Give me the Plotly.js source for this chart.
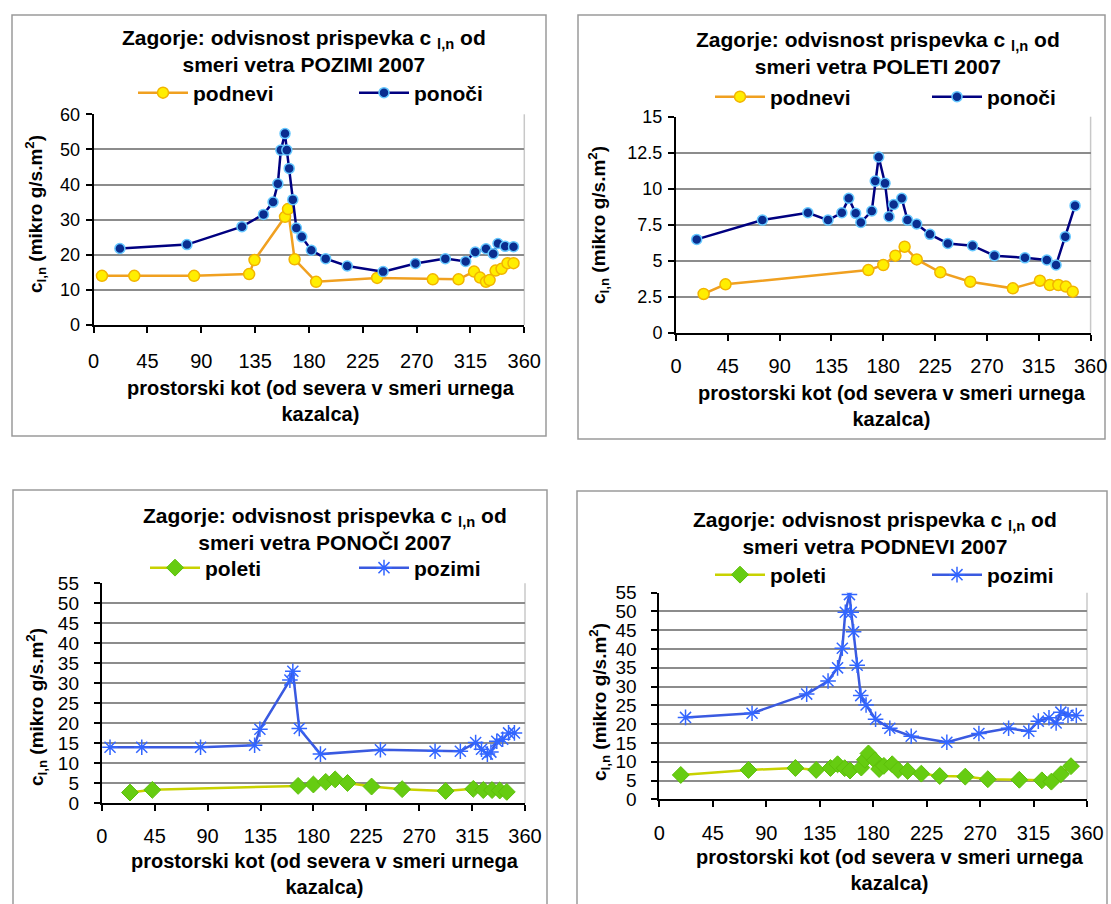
<!DOCTYPE html>
<html><head><meta charset="utf-8">
<script src="https://cdn.plot.ly/plotly-3.0.1.min.js"></script>
<style>body{margin:0;background:#fff}#chart{width:1111px;height:904px}</style>
</head><body><div id="chart"></div>
<script>
// ---- data ----
const xTickVals = [0, 45, 90, 135, 180, 225, 270, 315, 360];

// POZIMI chart "podnevi" (yellow) = PONOČI chart "pozimi"
const winterAX = [7, 34, 84, 130, 134.5, 160, 162.5, 168, 186, 237, 283.5, 305, 318, 323, 328, 331, 336, 341, 346, 351];
const winterAY = [14, 14, 14, 14.5, 18.5, 30.8, 33, 18.7, 12.3, 13.4, 13, 13, 15.2, 13.5, 12.3, 12.8, 15.5, 16, 17.6, 17.6];

// POZIMI chart "ponoči" (navy) = PODNEVI chart "pozimi"
const winterBX = [22, 78, 124, 142, 150, 154, 156.5, 160, 161.5, 163.5, 166.5, 169.5, 174, 182, 194, 212, 242, 269, 294, 311, 319, 328, 334, 338, 344, 351];
const winterBY = [21.8, 22.9, 28, 31.5, 35, 40.2, 49.8, 54.5, 49.8, 44.6, 35.7, 27.6, 25.1, 21.3, 18.9, 16.8, 15.2, 17.5, 18.9, 18.1, 20.8, 21.7, 20.3, 23.2, 22.4, 22.3];

// POLETI chart "podnevi" (yellow) = PONOČI chart "poleti"
const summerAX = [24, 43, 167, 180, 190.5, 198.5, 209, 229.5, 255.5, 292.5, 316, 324.5, 332, 338.5, 344.5];
const summerAY = [2.69, 3.36, 4.35, 4.7, 5.35, 5.97, 5.09, 4.19, 3.54, 3.08, 3.61, 3.31, 3.31, 3.2, 2.85];

// POLETI chart "ponoči" (navy) = PODNEVI chart "poleti"
const summerBX = [18, 75, 114.5, 132, 144, 150, 156, 160.5, 170, 173, 176, 181.5, 185, 189, 196, 201, 209, 220.5, 236, 257.5, 276.5, 303, 322, 330, 338, 346.5];
const summerBY = [6.48, 7.82, 8.33, 7.82, 8.33, 9.33, 8.29, 7.66, 8.45, 10.53, 12.2, 10.37, 8.06, 8.9, 9.33, 7.82, 7.55, 6.83, 6.2, 6.04, 5.35, 5.2, 5.05, 4.7, 6.67, 8.82];

const titles = [
  'Zagorje: odvisnost prispevka c <sub>l,n</sub> od<br>smeri vetra POZIMI 2007',
  'Zagorje: odvisnost prispevka c <sub>l,n</sub> od<br>smeri vetra POLETI 2007',
  'Zagorje: odvisnost prispevka c <sub>l,n</sub> od<br>smeri vetra PONOČI 2007',
  'Zagorje: odvisnost prispevka c <sub>l,n</sub> od<br>smeri vetra PODNEVI 2007'
];
const xTitle = 'prostorski kot (od severa v smeri urnega<br>kazalca)';
const yTitle = 'c<sub>l,n</sub> (mikro g/s.m<sup>2</sup>)';
const names = [['podnevi', 'ponoči'], ['podnevi', 'ponoči'], ['poleti', 'pozimi'], ['poleti', 'pozimi']];

// ---- styles ----
const FONT = 'Liberation Sans, Arial, sans-serif';
const W = 1111, H = 904;
const px = v => v / W, py = v => 1 - v / H;

const sYellow = {line: {color: '#F0A020', width: 2.5}, marker: {symbol: 'circle', size: 11, color: '#FFEE00', line: {color: '#F2B400', width: 1.5}}};
const sNavy = {line: {color: '#000080', width: 2.5}, marker: {symbol: 'circle', size: 10, color: '#0A2D8F', line: {color: '#66C8FF', width: 1.5}}};
const sGreen = {line: {color: '#C8D200', width: 2.5}, marker: {symbol: 'diamond', size: 13, color: '#66CC11', line: {color: '#5CBF0A', width: 1}}};
const sBlue = {line: {color: '#3A5AE0', width: 2.5}, marker: {symbol: 'asterisk-open', size: 13, color: '#3366FF', line: {color: '#3366FF', width: 1.5}}};

const charts = [
  {box: [12, 15, 546, 436], plot: [93.6, 114.3, 524.3, 325], yMax: 60, yStep: 10, t: [304, 51], xt: [321, 401], yt: [36, 214], legY: 93, leg: [133, 354], yFont: 18, ySo: 2, xSo: 11, yTop: true,
   series: [[winterAX, winterAY, sYellow], [winterBX, winterBY, sNavy]]},
  {box: [578, 15, 1105, 439], plot: [676, 116.7, 1090.6, 332.7], yMax: 15, yStep: 2.5, t: [878, 53], xt: [892, 406], yt: [599, 225], legY: 97, leg: [710, 927], yFont: 18, ySo: 2, xSo: 8, yTop: true,
   series: [[summerAX, summerAY, sYellow], [summerBX, summerBY, sNavy]]},
  {box: [13, 490, 547, 910], plot: [101.8, 583.3, 525, 803.3], yMax: 55, yStep: 5, t: [325, 529], xt: [325, 874], yt: [36, 707], legY: 568, leg: [145, 354], yFont: 19, ySo: 11, xSo: 8, yTop: false,
   series: [[summerAX, summerAY, sGreen], [winterAX, winterAY, sBlue]]},
  {box: [577, 491, 1107, 910], plot: [659.4, 592.7, 1087, 799.3], yMax: 55, yStep: 5, t: [875, 533], xt: [890, 870], yt: [599, 702], legY: 575, leg: [710, 927], yFont: 19, ySo: 11, xSo: 9, yTop: false,
   series: [[summerBX, summerBY, sGreen], [winterBX, winterBY, sBlue]]}
];

const data = [], annotations = [], shapes = [];
const layout = {width: W, height: H, margin: {l: 0, r: 0, t: 0, b: 0}, paper_bgcolor: '#fff', plot_bgcolor: '#fff',
  font: {family: FONT, color: '#000'}, showlegend: true};

charts.forEach((c, i) => {
  const n = i + 1, sfx = n === 1 ? '' : String(n);
  const yTicks = [];
  for (let v = 0; v <= c.yMax + 1e-9; v += c.yStep) yTicks.push(+v.toFixed(2));
  const yGrid = c.yTop ? {showgrid: true} : {showgrid: false, minor: {tickvals: yTicks.slice(1, -1), showgrid: true, gridcolor: '#8c8c8c', gridwidth: 2, ticks: ''}};
  layout['xaxis' + sfx] = {domain: [px(c.plot[0]), px(c.plot[2])], anchor: 'y' + sfx, range: [0, 360], tickvals: xTickVals,
    showgrid: false, zeroline: false, showline: true, linecolor: '#000', linewidth: 2, ticks: 'outside', ticklen: 6, tickwidth: 2, tickcolor: '#000',
    ticklabelstandoff: c.xSo, tickfont: {family: FONT, size: 20, color: '#000'}, fixedrange: true};
  layout['yaxis' + sfx] = Object.assign({domain: [py(c.plot[3]), py(c.plot[1])], anchor: 'x' + sfx, range: [0, c.yMax], tickvals: yTicks,
    ticktext: yTicks.map(v => String(v)), gridcolor: '#8c8c8c', gridwidth: 2, zeroline: false, showline: true, linecolor: '#000', linewidth: 2,
    ticks: 'outside', ticklen: 6, tickwidth: 2, tickcolor: '#000', ticklabelstandoff: c.ySo, tickfont: {family: FONT, size: c.yFont, color: '#000'}, fixedrange: true}, yGrid);

  c.series.forEach((s, k) => {
    const legName = 'legend' + (i * 2 + k === 0 ? '' : String(i * 2 + k + 1));
    data.push(Object.assign({type: 'scatter', mode: 'lines+markers', x: s[0], y: s[1], name: names[i][k], xaxis: 'x' + sfx, yaxis: 'y' + sfx,
      legend: legName, hoverinfo: 'x+y'}, JSON.parse(JSON.stringify(s[2]))));
    layout[legName] = {x: px(c.leg[k]), y: py(c.legY), xanchor: 'left', yanchor: 'middle', orientation: 'h', bgcolor: 'rgba(0,0,0,0)',
      borderwidth: 0, itemwidth: 50, font: {family: FONT, size: 21, color: '#000', weight: 'bold'}, itemclick: false, itemdoubleclick: false};
  });

  annotations.push({xref: 'paper', yref: 'paper', x: px(c.t[0]), y: py(c.t[1]), xanchor: 'center', yanchor: 'middle', showarrow: false,
    text: titles[i], font: {family: FONT, size: 21, color: '#000', weight: 'bold'}, align: 'center'});
  annotations.push({xref: 'paper', yref: 'paper', x: px(c.xt[0]), y: py(c.xt[1]), xanchor: 'center', yanchor: 'middle', showarrow: false,
    text: xTitle, font: {family: FONT, size: 20, color: '#000', weight: 'bold'}, align: 'center'});
  annotations.push({xref: 'paper', yref: 'paper', x: px(c.yt[0]), y: py(c.yt[1]), xanchor: 'center', yanchor: 'middle', showarrow: false,
    text: yTitle, textangle: -90, font: {family: FONT, size: 19, color: '#000', weight: 'bold'}});

  shapes.push({type: 'rect', xref: 'paper', yref: 'paper', x0: px(c.box[0]), x1: px(c.box[2]), y0: py(c.box[3]), y1: py(c.box[1]),
    line: {color: '#9a9a9a', width: 1.5}, layer: 'below'});
  shapes.push({type: 'line', xref: 'x' + sfx + ' domain', yref: 'y' + sfx + ' domain', x0: 1, x1: 1, y0: 0, y1: 1,
    line: {color: '#c8c8c8', width: 1.5}, layer: 'below'});
});
layout.annotations = annotations;
layout.shapes = shapes;
Plotly.newPlot('chart', data, layout, {displayModeBar: false, staticPlot: true});
</script></body></html>
